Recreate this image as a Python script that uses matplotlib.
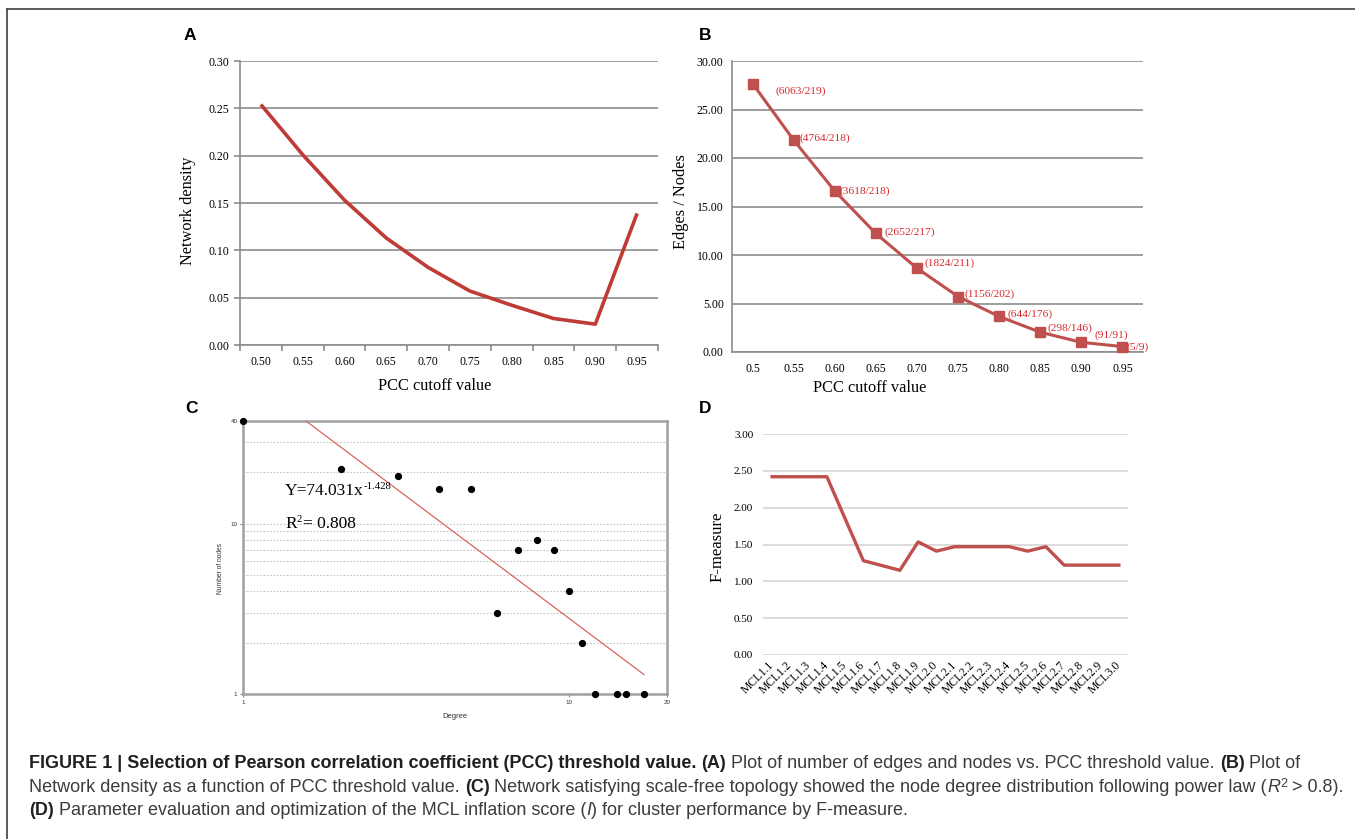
import matplotlib
matplotlib.use('Agg')
import matplotlib.pyplot as plt
from matplotlib.lines import Line2D
from matplotlib.font_manager import FontProperties


W, H = 1355, 839

# ---- data -------------------------------------------------------------
pcc_labels_a = ['0.50', '0.55', '0.60', '0.65', '0.70', '0.75', '0.80', '0.85', '0.90', '0.95']
density = [0.254, 0.201, 0.153, 0.113, 0.082, 0.057, 0.042, 0.028, 0.022, 0.139]

pcc_labels_b = ['0.5', '0.55', '0.60', '0.65', '0.70', '0.75', '0.80', '0.85', '0.90', '0.95']
edges_per_node = [27.68, 21.85, 16.60, 12.22, 8.64, 5.72, 3.66, 2.04, 1.00, 0.56]
edge_node_counts = ['(6063/219)', '(4764/218)', '(3618/218)', '(2652/217)', '(1824/211)',
                    '(1156/202)', '(644/176)', '(298/146)', '(91/91)', '(5/9)']

degree = [1, 2, 3, 4, 5, 6, 7, 8, 9, 10, 11, 12, 14, 15, 17]
n_nodes = [40, 21, 19, 16, 16, 3, 7, 8, 7, 4, 2, 1, 1, 1, 1]
fit_x = [1.56, 17]
fit_y = [40, 1.3]

mcl_labels = ['MCL1.1', 'MCL1.2', 'MCL1.3', 'MCL1.4', 'MCL1.5', 'MCL1.6', 'MCL1.7',
              'MCL1.8', 'MCL1.9', 'MCL2.0', 'MCL2.1', 'MCL2.2', 'MCL2.3', 'MCL2.4',
              'MCL2.5', 'MCL2.6', 'MCL2.7', 'MCL2.8', 'MCL2.9', 'MCL3.0']
f_measure = [2.42, 2.42, 2.42, 2.42, 1.85, 1.28, 1.215, 1.15, 1.535, 1.41,
             1.47, 1.47, 1.47, 1.47, 1.41, 1.47, 1.22, 1.22, 1.22, 1.22]

# label offsets (pixels) for panel B annotations
b_label_offsets = [(23, -8), (6, 2), (5, 0), (9, 1), (8, 5), (6, 2), (8, 2), (7, 4), (13, 7), (4, -1)]

plt.rcParams['font.family'] = 'Liberation Serif'

fig = plt.figure(figsize=(W / 100, H / 100), dpi=100)
renderer = fig.canvas.get_renderer()


def px_axes(left, top, right, bottom):
    return fig.add_axes([left / W, 1 - bottom / H, (right - left) / W, (bottom - top) / H])


def ptext(x, y, s, **kw):
    return fig.text(x / W, 1 - y / H, s, **kw)


def advance(text, fp):
    w1 = renderer.get_text_width_height_descent('|' + text + '|', fp, ismath=False)[0]
    w0 = renderer.get_text_width_height_descent('||', fp, ismath=False)[0]
    return w1 - w0


def text_with_sup(x, y, base, sup, size, family='Liberation Serif'):
    fp = FontProperties(family=family, size=size)
    ptext(x, y, base, ha='left', va='baseline', fontproperties=fp)
    fps = FontProperties(family=family, size=size * 0.62)
    ptext(x + advance(base, fp), y - size * 0.5, sup, ha='left', va='baseline', fontproperties=fps)


# ---- panel A ----------------------------------------------------------
grey = '#8c8c8c'
axA = px_axes(240, 61, 658, 345)
axA.plot(range(10), density, color='#BE3B36', lw=2.6, solid_capstyle='butt', zorder=3)
axA.set_xlim(-0.5, 9.5)
axA.set_ylim(0, 0.30)
axA.set_yticks([0, 0.05, 0.10, 0.15, 0.20, 0.25, 0.30])
axA.set_yticklabels(['%.2f' % v for v in [0, 0.05, 0.10, 0.15, 0.20, 0.25, 0.30]])
axA.set_xticks(range(10))
axA.set_xticklabels(pcc_labels_a)
axA.set_xticks([i - 0.5 for i in range(11)], minor=True)
axA.yaxis.grid(True, color=grey, lw=1.2)
axA.set_axisbelow(True)
for s in ['top', 'right']:
    axA.spines[s].set_visible(False)
for s in ['left', 'bottom']:
    axA.spines[s].set_color(grey)
    axA.spines[s].set_linewidth(1.2)
axA.tick_params(axis='y', length=4, color=grey, width=1.2, pad=4, labelsize=8.5)
axA.tick_params(axis='x', which='major', length=0, pad=8, labelsize=8.5)
axA.tick_params(axis='x', which='minor', length=4, color=grey, width=1.2)
ptext(188, 211, 'Network density', rotation=90, ha='center', va='center', fontsize=11.7)
ptext(435, 386, 'PCC cutoff value', ha='center', va='center', fontsize=11.8)

# ---- panel B ----------------------------------------------------------
axB = px_axes(732, 61, 1143, 352)
axB.plot(range(10), edges_per_node, color='#C0504D', lw=2.2, marker='s', ms=7.5,
         mfc='#C0504D', mec='#C0504D', zorder=3, clip_on=False)
for i, (v, lbl) in enumerate(zip(edges_per_node, edge_node_counts)):
    dx, dy = b_label_offsets[i]
    axB.annotate(lbl, (i, v), xytext=(dx, dy), textcoords='offset pixels',
                 ha='left', va='center', color='#D8282B', fontsize=8.2, annotation_clip=False)
axB.set_xlim(-0.5, 9.5)
axB.set_ylim(0, 30)
axB.set_yticks(range(0, 31, 5))
axB.set_yticklabels(['%.2f' % v for v in range(0, 31, 5)])
axB.set_xticks(range(10))
axB.set_xticklabels(pcc_labels_b)
axB.yaxis.grid(True, color=grey, lw=1.2)
axB.set_axisbelow(True)
for s in ['top', 'right']:
    axB.spines[s].set_visible(False)
for s in ['left', 'bottom']:
    axB.spines[s].set_color(grey)
    axB.spines[s].set_linewidth(1.2)
axB.tick_params(axis='both', length=0, labelsize=8.5)
axB.tick_params(axis='y', pad=6)
axB.tick_params(axis='x', pad=8)
ptext(681, 202, 'Edges / Nodes', rotation=90, ha='center', va='center', fontsize=11.8)
ptext(870, 388, 'PCC cutoff value', ha='center', va='center', fontsize=11.8)

# ---- panel C ----------------------------------------------------------
axC = px_axes(243, 421, 667, 694)
axC.set_xscale('log')
axC.set_yscale('log')
axC.set_xlim(1, 20)
axC.set_ylim(1, 40)
axC.plot(fit_x, fit_y, color='#E06060', lw=0.9, zorder=3)
axC.plot(degree, n_nodes, 'o', color='black', ms=4.2, clip_on=False, zorder=5)
axC.set_yticks([1, 10, 40])
axC.set_yticklabels(['1', '10', '40'])
axC.set_yticks([2, 3, 4, 5, 6, 7, 8, 9, 20, 30], minor=True)
axC.set_yticklabels([], minor=True)
axC.set_xticks([1, 10, 20])
axC.set_xticklabels(['1', '10', '20'])
axC.xaxis.set_minor_locator(matplotlib.ticker.NullLocator())
axC.yaxis.grid(True, which='both', color='#c4c4c4', lw=0.8, ls=(0, (1.5, 1.5)))
axC.set_axisbelow(True)
for s in axC.spines.values():
    s.set_color('#a0a0a0')
    s.set_linewidth(1.8)
axC.tick_params(axis='both', which='major', length=2, color='#888888', labelsize=4.5,
                pad=2, labelcolor='#333333')
axC.tick_params(axis='y', which='minor', length=0)
for lab in axC.get_xticklabels() + axC.get_yticklabels():
    lab.set_family('Liberation Sans')
text_with_sup(285, 495, 'Y=74.031x', '-1.428', 12.5)
text_with_sup(285, 528, 'R', '2', 12.5)
ptext(285 + advance('R', FontProperties(family='Liberation Serif', size=12.5)) + 6, 528,
      '= 0.808', ha='left', va='baseline', fontsize=12.5)
ptext(220, 568, 'Number of nodes', rotation=90, ha='center', va='center', fontsize=4.8,
      family='Liberation Sans', color='#333333')
ptext(455, 717, 'Degree', ha='center', va='center', fontsize=5.5,
      family='Liberation Sans', color='#333333')

# ---- panel D ----------------------------------------------------------
axD = px_axes(763, 434, 1128, 655)
axD.plot(range(20), f_measure, color='#C0504D', lw=2.4, zorder=3)
axD.set_xlim(-0.5, 19.5)
axD.set_ylim(0, 3)
axD.set_yticks([0, 0.5, 1.0, 1.5, 2.0, 2.5, 3.0])
axD.set_yticklabels(['%.2f' % v for v in [0, 0.5, 1.0, 1.5, 2.0, 2.5, 3.0]])
axD.set_xticks(range(20))
axD.set_xticklabels(mcl_labels, rotation=45, ha='right', va='center', rotation_mode='anchor')
axD.yaxis.grid(True, color='#d9d9d9', lw=1.3)
axD.set_axisbelow(True)
for s in axD.spines.values():
    s.set_visible(False)
axD.tick_params(axis='both', length=0)
axD.tick_params(axis='y', pad=7, labelsize=8)
axD.tick_params(axis='x', pad=6, labelsize=8.5)
ptext(718, 547, 'F-measure', rotation=90, ha='center', va='center', fontsize=12)

# ---- panel letters ----------------------------------------------------
for lx, ly, letter in [(190, 36, 'A'), (705, 36, 'B'), (191, 409, 'C'), (705, 409, 'D')]:
    ptext(lx, ly, letter, ha='center', va='center', fontsize=12.5, weight='bold',
          family='Liberation Sans')

# ---- frame ------------------------------------------------------------
fig.add_artist(Line2D([7 / W, 1], [1 - 9 / H, 1 - 9 / H], transform=fig.transFigure,
                      color='#4d4d4d', lw=1.3))
fig.add_artist(Line2D([7 / W, 7 / W], [1 - 9 / H, 0], transform=fig.transFigure,
                      color='#4d4d4d', lw=1.3))

# ---- caption ----------------------------------------------------------


def caption_line(x_px, base_px, runs, size, draw=True):
    x = x_px
    for text, weight, style, scale, rise in runs:
        fp = FontProperties(family='Liberation Sans', weight=weight, style=style, size=size * scale)
        if draw:
            col = '#231f20' if weight == 'bold' else '#3c3c3c'
            fig.text(x / W, 1 - (base_px - rise) / H, text, fontproperties=fp, color=col,
                     ha='left', va='baseline')
        x += advance(text, fp)
    return x - x_px


B, N, I = 'bold', 'normal', 'italic'
line1 = [('FIGURE 1 | Selection of Pearson correlation coefficient (PCC) threshold value.', B, 'normal', 1, 0),
         (' ', N, 'normal', 1, 0),
         ('(A)', B, 'normal', 1, 0),
         (' Plot of number of edges and nodes vs. PCC threshold value. ', N, 'normal', 1, 0),
         ('(B)', B, 'normal', 1, 0),
         (' Plot of', N, 'normal', 1, 0)]
line2 = [('Network density as a function of PCC threshold value. ', N, 'normal', 1, 0),
         ('(C)', B, 'normal', 1, 0),
         (' Network satisfying scale-free topology showed the node degree distribution following power law (', N, 'normal', 1, 0),
         ('R', N, I, 1, 0),
         ('2', N, 'normal', 0.7, 5),
         (' > 0.8).', N, 'normal', 1, 0)]
line3 = [('(D)', B, 'normal', 1, 0),
         (' Parameter evaluation and optimization of the MCL inflation score (', N, 'normal', 1, 0),
         ('I', N, I, 1, 0),
         (') for cluster performance by F-measure.', N, 'normal', 1, 0)]

w10 = caption_line(29, 0, line2, 10, draw=False)
cap_size = 10 * (1342 - 29) / w10
caption_line(29, 768, line1, cap_size)
caption_line(29, 792, line2, cap_size)
caption_line(29, 815, line3, cap_size)

fig.savefig('out.png', dpi=100)
